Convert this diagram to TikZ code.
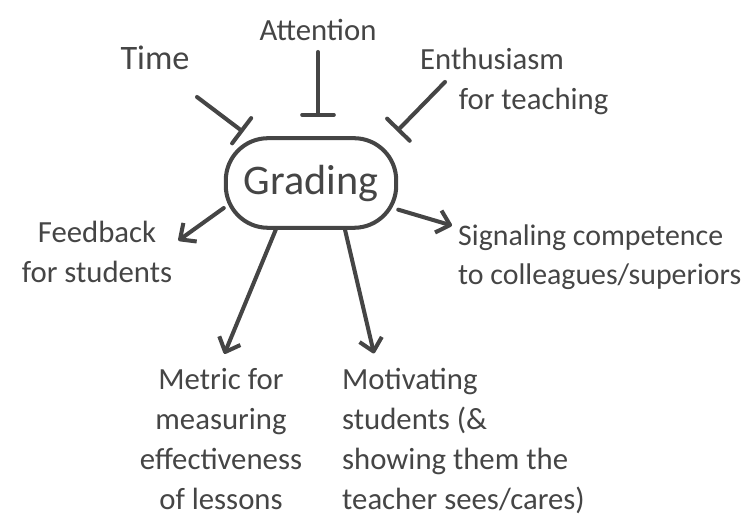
\documentclass[tikz,border=0pt]{standalone}
\usepackage{fontspec}
\setmainfont{Carlito}
\usetikzlibrary{arrows.meta}
\definecolor{pencil}{HTML}{454545}

\begin{document}
\begin{tikzpicture}[x=0.02cm, y=-0.02cm,
    every node/.style={text=pencil, font=\fontsize{17.5}{22.5}\selectfont},
    trazo/.style={draw=pencil, line width=2.3pt, line cap=round, line join=round},
    inhib/.style={trazo, -{Bar[width=18pt, line cap=round]}},
    flecha/.style={trazo, -{Straight Barb[length=7pt, width=13pt, line join=round]}}]
    \useasboundingbox (0,0) rectangle (747,519);
    % Centro
    \node[trazo, rounded corners=24pt, minimum width=97pt, minimum height=51pt,
          font=\fontsize{24}{26}\selectfont] (grad) at (311,183) {Grading};
    % Frenos
    \node (time) at (155,58) {\fontsize{19.5}{22}\selectfont Time};
    \node (attn) at (318,30) {Attention};
    \node[anchor=north west, align=left] (enth) at (414,42) {Enthusiasm\\\hspace*{22pt}for teaching};
    \coordinate (timefoot) at (197,97);
    \coordinate (attnfoot) at (318,52);
    \coordinate (enthfoot) at (445,82);
    \draw[inhib, shorten >=4pt] (timefoot) -- (grad.143.7);
    \draw[inhib, shorten >=11pt] (attnfoot) -- (attnfoot |- grad.north);
    \draw[inhib, shorten >=4pt] (enthfoot) -- (grad.30);
    % Efectos
    \node[align=center] (fb) at (97,252) {Feedback\\for students};
    \node[anchor=west, align=left, font=\fontsize{17}{22.5}\selectfont] (sig) at (452,257)
        {Signaling competence\\to colleagues/superiors};
    \node[anchor=north, align=center, font=\fontsize{17.5}{22.7}\selectfont] (met) at (221,362)
        {Metric for\\measuring\\effectiveness\\of lessons};
    \node[anchor=north west, align=left, font=\fontsize{17.5}{22.7}\selectfont] (mot) at (336,362)
        {Motivating\\students (\&\\showing them the\\teacher sees/cares)};
    \draw[flecha] (grad.196.7) -- (fb.8);
    \draw[flecha] (grad.343.3) -- (sig.168);
    \draw[flecha, shorten >=5pt] (grad.233.3) -- (met.north);
    \draw[flecha, shorten >=5pt] (grad.306.3) -- (mot.138);
\end{tikzpicture}
\end{document}
